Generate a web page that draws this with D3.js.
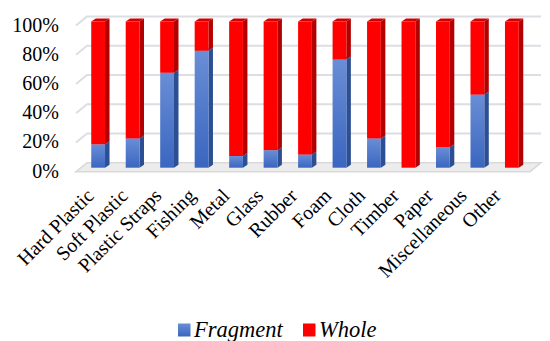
<!DOCTYPE html>
<html>
<head>
<meta charset="utf-8">
<script src="https://cdn.jsdelivr.net/npm/d3@7"></script>
</head>
<body style="margin:0">
<div id="chart"></div>
<script>
// DATA
const categories = ['Hard Plastic', 'Soft Plastic', 'Plastic Straps', 'Fishing', 'Metal',
    'Glass', 'Rubber', 'Foam', 'Cloth', 'Timber', 'Paper', 'Miscellaneous', 'Other'];
const fragment = [16, 20, 65, 80, 8, 12, 9, 74, 20, 0, 14, 50, 0];
const whole = [84, 80, 35, 20, 92, 88, 91, 26, 80, 100, 86, 50, 100];
const yTicks = [0, 20, 40, 60, 80, 100];
const seriesNames = ['Fragment', 'Whole'];

const width = 550;
const height = 341;

const svg = d3.select('#chart')
    .append('svg')
        .attr('width', width)
        .attr('height', height)
        .style('font-family', 'Liberation Serif');

// gradient for the blue fronts
const defs = svg.append('defs');
const grad = defs.append('linearGradient')
    .attr('id', 'blueGrad')
    .attr('x1', 0).attr('y1', 0).attr('x2', 0).attr('y2', 1);
grad.append('stop').attr('offset', '0%').attr('stop-color', '#6a8ed6');
grad.append('stop').attr('offset', '100%').attr('stop-color', '#3a66c0');

// scales (bar front plane)
const y = d3.scaleLinear()
    .domain([0, 100])
    .range([167.7, 21.5]);
const x = d3.scaleBand()
    .domain(categories)
    .range([74, 536])
    .paddingInner(0.6)
    .paddingOuter(0.5);
// label anchor positions along the floor front
const xl = d3.scalePoint()
    .domain(categories)
    .range([95, 502]);

// depth offsets
const wall = {dx: 11, dy: -9, x0: 76, x1: 541};
const bar = {dx: 4.5, dy: -3};

// floor
const floorFront = y(0) + 4;
svg.append('path')
    .attr('d', `M${wall.x0},${floorFront} L${wall.x0 + wall.dx},${floorFront + wall.dy}
        L${wall.x1},${floorFront + wall.dy} L${wall.x1 - wall.dx},${floorFront} Z`)
    .attr('fill', '#ececec')
    .attr('stroke', '#d9d9d9')
    .attr('stroke-width', 1.5);

// gridlines on back wall
svg.append('g')
    .selectAll('path')
    .data(yTicks.slice(1))
    .join('path')
        .attr('d', d => {
            const yf = y(d) + 4;
            return `M${wall.x0},${yf} L${wall.x0 + wall.dx},${yf + wall.dy} L${wall.x1},${yf + wall.dy}`;
        })
        .attr('fill', 'none')
        .attr('stroke', '#dcdee3')
        .attr('stroke-width', 2);

// y labels
svg.selectAll('text.ylab')
    .data(yTicks)
    .join('text')
        .attr('class', 'ylab')
        .attr('x', 59)
        .attr('y', d => y(d) + 10)
        .attr('text-anchor', 'end')
        .attr('font-family', 'Liberation Serif')
        .attr('font-size', 20)
        .text(d => `${d}%`);

// stacked series
const rows = categories.map((c, i) => ({cat: c, Fragment: fragment[i], Whole: whole[i]}));
const stack = d3.stack().keys(seriesNames)(rows);

const colours = {
    Fragment: {front: 'url(#blueGrad)', side: '#2b4f92', top: '#7c9be0'},
    Whole: {front: '#ff0000', side: '#b30000', top: '#d40000'}
};

const bars = svg.append('g');
stack.forEach(layer => {
    const c = colours[layer.key];
    layer.forEach((seg, i) => {
        if (seg[1] - seg[0] <= 0) return;
        const x0 = x(categories[i]);
        const w = x.bandwidth();
        const yt = y(seg[1]);
        const yb = y(seg[0]);
        const g = bars.append('g');
        // side face
        g.append('path')
            .attr('d', `M${x0 + w},${yb} L${x0 + w + bar.dx},${yb + bar.dy}
                L${x0 + w + bar.dx},${yt + bar.dy} L${x0 + w},${yt} Z`)
            .attr('fill', c.side);
        // top face
        g.append('path')
            .attr('d', `M${x0},${yt} L${x0 + bar.dx},${yt + bar.dy}
                L${x0 + w + bar.dx},${yt + bar.dy} L${x0 + w},${yt} Z`)
            .attr('fill', c.top);
        // front face
        g.append('rect')
            .attr('x', x0)
            .attr('y', yt)
            .attr('width', w)
            .attr('height', yb - yt)
            .attr('fill', c.front);
    });
});

// x labels
svg.selectAll('text.xlab')
    .data(categories)
    .join('text')
        .attr('class', 'xlab')
        .attr('text-anchor', 'end')
        .attr('transform', d => `translate(${xl(d)},${197}) rotate(-45)`)
        .attr('font-family', 'Liberation Serif')
        .attr('font-size', 20)
        .text(d => d);

// legend
const legendX = [178, 303];
seriesNames.forEach((name, i) => {
    svg.append('rect')
        .attr('x', legendX[i])
        .attr('y', 323.5)
        .attr('width', 12.5)
        .attr('height', 13)
        .attr('fill', i === 0 ? 'url(#blueGrad)' : '#ff0000');
    svg.append('text')
        .attr('x', legendX[i] + 16)
        .attr('y', 337)
        .attr('font-family', 'Liberation Serif')
        .attr('font-size', 22.5)
        .attr('font-style', 'italic')
        .text(name);
});
</script>
</body>
</html>
